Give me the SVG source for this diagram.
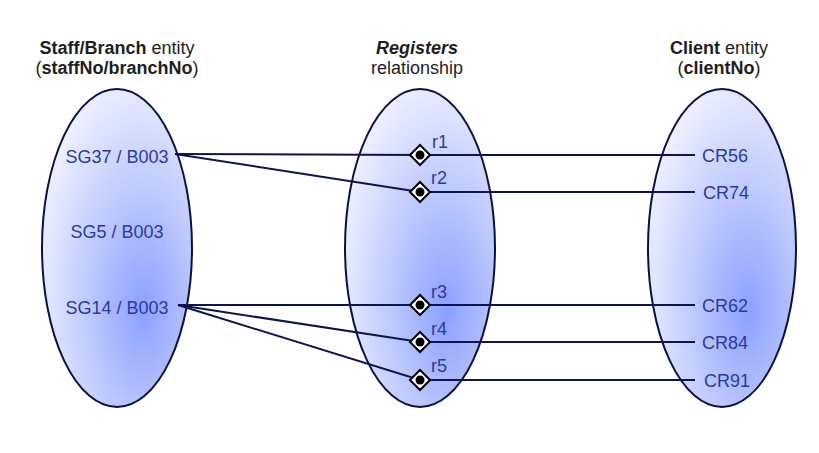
<svg xmlns="http://www.w3.org/2000/svg" width="819" height="453" viewBox="0 0 819 453">
<defs>
<radialGradient id="g" cx="0.66" cy="0.66" r="0.78" fx="0.68" fy="0.7">
<stop offset="0" stop-color="#8ba0ff"/>
<stop offset="0.45" stop-color="#bcc7fd"/>
<stop offset="1" stop-color="#f6f7ff"/>
</radialGradient>
<style>
.ell{fill:url(#g);stroke:#0b1148;stroke-width:2}
.ttl{font-family:"Liberation Sans",Arial,sans-serif;font-size:18px;fill:#1e1e1e;text-anchor:middle}
.b{font-weight:bold}
.lbl{font-family:"Liberation Sans",Arial,sans-serif;font-size:18px;fill:#2a3a9c}
.ln{stroke:#0d1450;stroke-width:2;fill:none}
.dm{fill:#fff;stroke:#000;stroke-width:2}
</style>
</defs>
<rect width="819" height="453" fill="#fff"/>
<g id="staff">
<text class="ttl" x="117" y="54"><tspan class="b">Staff/Branch</tspan> entity</text>
<text class="ttl" x="117" y="74">(<tspan class="b">staffNo/branchNo</tspan>)</text>
<ellipse class="ell" cx="117" cy="248" rx="75" ry="159"/>
<text class="lbl" x="117" y="163" text-anchor="middle">SG37 / B003</text>
<text class="lbl" x="117" y="238" text-anchor="middle">SG5 / B003</text>
<text class="lbl" x="117" y="314" text-anchor="middle">SG14 / B003</text>
</g>
<g id="registers">
<text class="ttl" x="417" y="54"><tspan class="b" font-style="italic">Registers</tspan></text>
<text class="ttl" x="417" y="74">relationship</text>
<ellipse class="ell" cx="420" cy="248" rx="75" ry="159"/>
</g>
<g id="client">
<text class="ttl" x="719" y="54"><tspan class="b">Client</tspan> entity</text>
<text class="ttl" x="719" y="74">(<tspan class="b">clientNo</tspan>)</text>
<ellipse class="ell" cx="722" cy="248" rx="74" ry="159"/>
<text class="lbl" x="702" y="162">CR56</text>
<text class="lbl" x="703" y="199">CR74</text>
<text class="lbl" x="702" y="312">CR62</text>
<text class="lbl" x="702" y="349">CR84</text>
<text class="lbl" x="704" y="387">CR91</text>
</g>
<g id="connectors">
<path class="ln" d="M175 154 L420 155 L695 155"/>
<path class="ln" d="M175 154 L420 192 L695 192"/>
<path class="ln" d="M178 305 L420 305 L695 305"/>
<path class="ln" d="M178 305 L420 342 L695 342"/>
<path class="ln" d="M178 305 L420 380 L695 380"/>
</g>
<g id="r1"><path class="dm" d="M420 145 L430 155 L420 165 L410 155 Z"/><circle cx="420" cy="155" r="4.5"/><text class="lbl" x="432" y="148">r1</text></g>
<g id="r2"><path class="dm" d="M420 182 L430 192 L420 202 L410 192 Z"/><circle cx="420" cy="192" r="4.5"/><text class="lbl" x="431" y="184">r2</text></g>
<g id="r3"><path class="dm" d="M420 295 L430 305 L420 315 L410 305 Z"/><circle cx="420" cy="305" r="4.5"/><text class="lbl" x="431" y="298">r3</text></g>
<g id="r4"><path class="dm" d="M420 332 L430 342 L420 352 L410 342 Z"/><circle cx="420" cy="342" r="4.5"/><text class="lbl" x="431" y="335">r4</text></g>
<g id="r5"><path class="dm" d="M420 370 L430 380 L420 390 L410 380 Z"/><circle cx="420" cy="380" r="4.5"/><text class="lbl" x="431" y="372">r5</text></g>
</svg>
